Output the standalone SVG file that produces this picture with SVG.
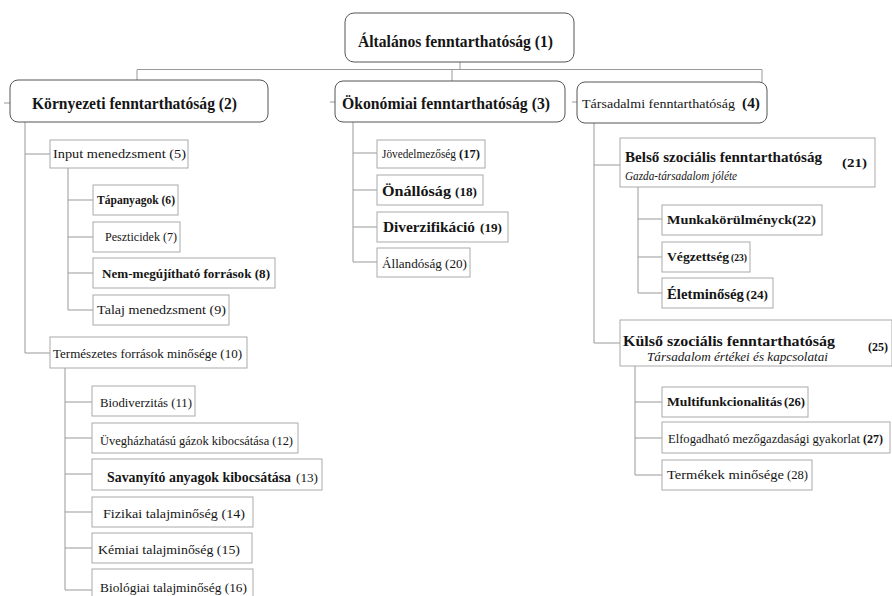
<svg xmlns="http://www.w3.org/2000/svg" width="892" height="596" viewBox="0 0 892 596" font-family="'Liberation Sans', Arial, sans-serif">
<style>
.rb{fill:#fff;stroke:#555;stroke-width:1}
.sb{fill:#fff;stroke:#aaa;stroke-width:1}
.c{fill:none;stroke:#999;stroke-width:1}
text{font-family:'Liberation Serif','Liberation Sans',serif;fill:#151515}
.b{font-weight:bold}
.s{font-weight:600}
.i{font-style:italic}
</style>
<rect fill="#fff" width="892" height="596"/>
<g id="connectors">
<path class="c" d="M460 62V69.5M137 69.5H762M137 69.5V80M452 69.5V81M762 69.5V82"/>
<path class="c" d="M4 103H10M330 102H335M572 102H577"/>
<path class="c" d="M25 122V353M25 154H50M25 353H50"/>
<path class="c" d="M68 168V310M68 200H93M68 237H93M68 273H93M68 310H93"/>
<path class="c" d="M65 368V590M65 402H92M65 438H92M65 474H92M65 512H92M65 548H92M65 590H92"/>
<path class="c" d="M353 122V262M353 153H377M353 190H377M353 227H377M353 262H377"/>
<path class="c" d="M594 123V343M594 165H620M594 343H620"/>
<path class="c" d="M638 187V293M638 219H662M638 257H662M638 293H662"/>
<path class="c" d="M635 366V475M635 402H662M635 438H662M635 475H662"/>
</g>
<g id="n1"><rect class="rb" x="345" y="13" width="229" height="49" rx="9"/><text class="b" x="358" y="47" font-size="17" textLength="195" lengthAdjust="spacingAndGlyphs">Általános fenntarthatóság (1)</text></g>
<g id="n2"><rect class="rb" x="10" y="80" width="258" height="42" rx="8"/><text class="b" x="32" y="109" font-size="16" textLength="205" lengthAdjust="spacingAndGlyphs">Környezeti fenntarthatóság (2)</text></g>
<g id="n3"><rect class="rb" x="335" y="81" width="230" height="41" rx="8"/><text class="b" x="342" y="109" font-size="16" textLength="208" lengthAdjust="spacingAndGlyphs">Ökonómiai fenntarthatóság (3)</text></g>
<g id="n4"><rect class="rb" x="577" y="82" width="190" height="41" rx="8"/><text x="582" y="108" font-size="13.5" textLength="153" lengthAdjust="spacingAndGlyphs">Társadalmi fenntarthatóság</text><text class="b" x="742" y="108" font-size="14" textLength="18" lengthAdjust="spacingAndGlyphs">(4)</text></g>
<g id="n5"><rect class="sb" x="50" y="140" width="138" height="28"/><text x="53" y="158" font-size="13" textLength="133" lengthAdjust="spacingAndGlyphs">Input menedzsment (5)</text></g>
<g id="n6"><rect class="sb" x="93" y="185" width="85" height="30"/><text class="b" x="97" y="204" font-size="13" textLength="78" lengthAdjust="spacingAndGlyphs">Tápanyagok (6)</text></g>
<g id="n7"><rect class="sb" x="93" y="222" width="87" height="30"/><text x="105" y="241" font-size="11.5" textLength="72" lengthAdjust="spacingAndGlyphs">Peszticidek (7)</text></g>
<g id="n8"><rect class="sb" x="93" y="258" width="182" height="30"/><text class="b" x="102" y="278" font-size="13" textLength="168" lengthAdjust="spacingAndGlyphs">Nem-megújítható források (8)</text></g>
<g id="n9"><rect class="sb" x="93" y="295" width="136" height="30"/><text x="97" y="314" font-size="13.5" textLength="129" lengthAdjust="spacingAndGlyphs">Talaj menedzsment (9)</text></g>
<g id="n10"><rect class="sb" x="50" y="337" width="197" height="31"/><text x="53" y="358" font-size="13.5" textLength="189" lengthAdjust="spacingAndGlyphs">Természetes források minősége (10)</text></g>
<g id="n11"><rect class="sb" x="92" y="386" width="103" height="30"/><text x="100" y="407" font-size="12.5" textLength="92" lengthAdjust="spacingAndGlyphs">Biodiverzitás (11)</text></g>
<g id="n12"><rect class="sb" x="92" y="423" width="206" height="30"/><text x="100" y="445" font-size="13" textLength="193" lengthAdjust="spacingAndGlyphs">Üvegházhatású gázok kibocsátása (12)</text></g>
<g id="n13"><rect class="sb" x="92" y="459" width="230" height="31"/><text class="s" x="107" y="482" font-size="14" textLength="184" lengthAdjust="spacingAndGlyphs">Savanyító anyagok kibocsátása</text><text x="296" y="482" font-size="12.5" textLength="22" lengthAdjust="spacingAndGlyphs">(13)</text></g>
<g id="n14"><rect class="sb" x="92" y="497" width="161" height="30"/><text x="103" y="518" font-size="13" textLength="142" lengthAdjust="spacingAndGlyphs">Fizikai talajminőség (14)</text></g>
<g id="n15"><rect class="sb" x="92" y="533" width="160" height="30"/><text x="98" y="554" font-size="13" textLength="142" lengthAdjust="spacingAndGlyphs">Kémiai talajminőség (15)</text></g>
<g id="n16"><rect class="sb" x="92" y="569" width="161" height="32"/><text x="100" y="592" font-size="13" textLength="147" lengthAdjust="spacingAndGlyphs">Biológiai talajminőség (16)</text></g>
<g id="n17"><rect class="sb" x="377" y="140" width="108" height="28"/><text x="382" y="158" font-size="11.5" textLength="74" lengthAdjust="spacingAndGlyphs">Jövedelmezőség</text><text class="s" x="459" y="158" font-size="12" textLength="21" lengthAdjust="spacingAndGlyphs">(17)</text></g>
<g id="n18"><rect class="sb" x="377" y="175" width="106" height="30"/><text class="b" x="382" y="196" font-size="15" textLength="69" lengthAdjust="spacingAndGlyphs">Önállóság</text><text class="s" x="455" y="196" font-size="12" textLength="22" lengthAdjust="spacingAndGlyphs">(18)</text></g>
<g id="n19"><rect class="sb" x="377" y="212" width="131" height="30"/><text class="b" x="383" y="232" font-size="14" textLength="92" lengthAdjust="spacingAndGlyphs">Diverzifikáció</text><text class="s" x="480" y="232" font-size="12" textLength="22" lengthAdjust="spacingAndGlyphs">(19)</text></g>
<g id="n20"><rect class="sb" x="377" y="248" width="93" height="29"/><text x="382" y="268" font-size="12" textLength="85" lengthAdjust="spacingAndGlyphs">Állandóság (20)</text></g>
<g id="n21"><rect class="sb" x="620" y="138" width="255" height="49"/><text class="b" x="625" y="162" font-size="15" textLength="197" lengthAdjust="spacingAndGlyphs">Belső szociális fenntarthatóság</text><text class="i" x="625" y="180" font-size="13" textLength="112" lengthAdjust="spacingAndGlyphs">Gazda-társadalom jóléte</text><text class="b" x="842" y="167" font-size="13" textLength="25" lengthAdjust="spacingAndGlyphs">(21)</text></g>
<g id="n22"><rect class="sb" x="662" y="205" width="160" height="30"/><text class="b" x="667" y="224" font-size="13" textLength="149" lengthAdjust="spacingAndGlyphs">Munkakörülményck(22)</text></g>
<g id="n23"><rect class="sb" x="662" y="242" width="88" height="30"/><text class="b" x="667" y="261" font-size="12.5" textLength="62" lengthAdjust="spacingAndGlyphs">Végzettség</text><text class="s" x="731" y="261" font-size="10.5" textLength="16" lengthAdjust="spacingAndGlyphs">(23)</text></g>
<g id="n24"><rect class="sb" x="662" y="278" width="111" height="30"/><text class="b" x="667" y="299" font-size="14" textLength="77" lengthAdjust="spacingAndGlyphs">Életminőség</text><text class="s" x="746" y="299" font-size="12" textLength="22" lengthAdjust="spacingAndGlyphs">(24)</text></g>
<g id="n25"><rect class="sb" x="620" y="320" width="272" height="46"/><text class="b" x="623" y="346" font-size="15" textLength="212" lengthAdjust="spacingAndGlyphs">Külső szociális fenntarthatóság</text><text class="i" x="647" y="361" font-size="13" textLength="181" lengthAdjust="spacingAndGlyphs">Társadalom értékei és kapcsolatai</text><text class="b" x="868" y="351" font-size="13" textLength="20" lengthAdjust="spacingAndGlyphs">(25)</text></g>
<g id="n26"><rect class="sb" x="662" y="387" width="146" height="30"/><text class="b" x="667" y="406" font-size="13" textLength="115" lengthAdjust="spacingAndGlyphs">Multifunkcionalitás</text><text class="s" x="784" y="406" font-size="11.5" textLength="21" lengthAdjust="spacingAndGlyphs">(26)</text></g>
<g id="n27"><rect class="sb" x="662" y="422" width="228" height="31"/><text x="668" y="443" font-size="12.5" textLength="192" lengthAdjust="spacingAndGlyphs">Elfogadható mezőgazdasági gyakorlat</text><text class="s" x="863" y="443" font-size="12" textLength="20" lengthAdjust="spacingAndGlyphs">(27)</text></g>
<g id="n28"><rect class="sb" x="662" y="460" width="150" height="30"/><text x="667" y="479" font-size="13" textLength="117" lengthAdjust="spacingAndGlyphs">Termékek minősége</text><text x="787" y="479" font-size="12" textLength="21" lengthAdjust="spacingAndGlyphs">(28)</text></g>
</svg>
